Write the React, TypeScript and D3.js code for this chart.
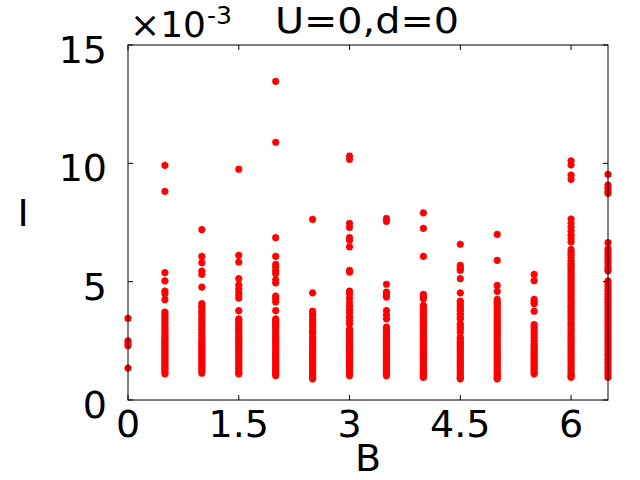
import React from "react";
import * as d3 from "d3";

const bValues = [0, 0.5, 1, 1.5, 2, 2.5, 3, 3.5, 4, 4.5, 5, 5.5, 6, 6.5];

const iB00 = [3.45, 2.5, 2.38, 2.3, 1.35];
const iB05 = [9.91, 8.81, 5.38, 5.03, 4.6, 4.49, 4.24, 3.71, 3.62, 3.5, 3.41, 3.3, 3.22, 3.1, 2.98, 2.9, 2.8, 2.72, 2.63, 2.55, 2.47, 2.4, 2.31, 2.24, 2.15, 2.07, 1.99, 1.9, 1.83, 1.75, 1.66, 1.58, 1.5, 1.42, 1.35, 1.27, 1.19, 1.1];
const iB10 = [7.2, 6.07, 5.8, 5.45, 5.31, 4.77, 4.07, 3.98, 3.87, 3.76, 3.68, 3.57, 3.46, 3.35, 3.27, 3.15, 3.04, 2.95, 2.83, 2.72, 2.61, 2.52, 2.44, 2.36, 2.28, 2.2, 2.11, 2.03, 1.95, 1.86, 1.78, 1.7, 1.61, 1.53, 1.45, 1.37, 1.29, 1.21, 1.13];
const iB15 = [9.75, 6.11, 5.83, 5.13, 4.85, 4.7, 4.55, 4.42, 4.3, 3.78, 3.43, 3.34, 3.25, 3.15, 3.05, 2.96, 2.87, 2.77, 2.68, 2.58, 2.5, 2.41, 2.32, 2.22, 2.13, 2.05, 1.96, 1.87, 1.78, 1.69, 1.6, 1.51, 1.42, 1.33, 1.24, 1.16, 1.1];
const iB20 = [13.46, 10.89, 6.86, 6.07, 5.73, 5.6, 5.46, 5.34, 5.08, 4.95, 4.39, 4.27, 4.14, 3.78, 3.43, 3.35, 3.26, 3.17, 3.08, 2.99, 2.9, 2.81, 2.72, 2.63, 2.54, 2.45, 2.36, 2.27, 2.18, 2.09, 2.0, 1.91, 1.82, 1.73, 1.64, 1.55, 1.46, 1.37, 1.28, 1.19, 1.1, 1.03];
const iB25 = [7.63, 4.53, 3.75, 3.63, 3.52, 3.4, 3.3, 3.2, 3.1, 2.98, 2.88, 2.8, 2.65, 2.57, 2.48, 2.39, 2.3, 2.21, 2.12, 2.03, 1.94, 1.85, 1.76, 1.67, 1.58, 1.49, 1.4, 1.31, 1.22, 1.13, 1.04, 0.95, 0.89];
const iB30 = [10.31, 10.17, 7.46, 7.29, 6.86, 6.75, 6.47, 5.48, 5.4, 4.6, 4.47, 4.3, 4.12, 3.96, 3.8, 3.66, 3.5, 3.36, 3.22, 3.01, 2.92, 2.83, 2.74, 2.65, 2.56, 2.47, 2.38, 2.29, 2.2, 2.11, 2.02, 1.93, 1.84, 1.75, 1.66, 1.57, 1.48, 1.39, 1.3, 1.21, 1.12, 1.03];
const iB35 = [7.67, 7.55, 4.89, 4.56, 4.45, 4.35, 3.78, 3.6, 3.43, 3.08, 2.99, 2.9, 2.81, 2.72, 2.63, 2.54, 2.45, 2.36, 2.27, 2.18, 2.09, 2.0, 1.91, 1.82, 1.73, 1.64, 1.55, 1.46, 1.37, 1.28, 1.19, 1.1, 1.03];
const iB40 = [7.91, 7.25, 6.07, 4.46, 4.36, 4.28, 4.0, 3.9, 3.8, 3.7, 3.6, 3.5, 3.4, 3.3, 3.2, 3.1, 3.0, 2.9, 2.8, 2.71, 2.62, 2.53, 2.44, 2.35, 2.26, 2.17, 2.08, 1.99, 1.9, 1.81, 1.72, 1.63, 1.54, 1.45, 1.36, 1.27, 1.18, 1.09, 1.02, 0.96];
const iB45 = [6.58, 5.69, 5.58, 5.48, 5.13, 4.53, 4.18, 4.07, 3.96, 3.85, 3.75, 3.63, 3.52, 3.43, 3.22, 3.1, 2.98, 2.86, 2.65, 2.56, 2.47, 2.38, 2.29, 2.2, 2.11, 2.02, 1.93, 1.84, 1.75, 1.66, 1.57, 1.48, 1.39, 1.3, 1.21, 1.12, 1.03, 0.95, 0.89];
const iB50 = [7.0, 5.9, 4.84, 4.59, 4.25, 4.15, 4.05, 3.95, 3.85, 3.75, 3.65, 3.55, 3.45, 3.35, 3.25, 3.15, 3.05, 2.95, 2.85, 2.75, 2.65, 2.55, 2.45, 2.36, 2.27, 2.18, 2.09, 2.0, 1.91, 1.82, 1.73, 1.64, 1.55, 1.46, 1.37, 1.28, 1.19, 1.1, 1.01, 0.94, 0.89];
const iB55 = [5.31, 5.04, 4.25, 4.16, 4.07, 3.75, 3.19, 3.08, 2.97, 2.85, 2.73, 2.62, 2.51, 2.37, 2.28, 2.19, 2.1, 2.01, 1.92, 1.83, 1.74, 1.65, 1.56, 1.47, 1.38, 1.29, 1.2, 1.1];
const iB60 = [10.1, 9.93, 9.5, 9.32, 7.64, 7.46, 7.3, 7.14, 6.98, 6.83, 6.68, 6.36, 6.25, 6.13, 6.0, 5.88, 5.76, 5.69, 5.6, 5.51, 5.4, 5.31, 5.2, 5.11, 5.0, 4.91, 4.8, 4.71, 4.6, 4.5, 4.41, 4.3, 4.21, 4.1, 4.0, 3.91, 3.8, 3.71, 3.6, 3.5, 3.41, 3.3, 3.2, 3.11, 3.0, 2.9, 2.81, 2.7, 2.6, 2.51, 2.4, 2.3, 2.21, 2.1, 2.0, 1.91, 1.8, 1.7, 1.61, 1.5, 1.4, 1.31, 1.2, 1.1, 1.02, 0.96];
const iB65 = [9.53, 9.08, 8.95, 8.82, 8.73, 6.65, 6.4, 6.28, 6.15, 6.02, 5.9, 5.78, 5.65, 5.55, 5.45, 5.03, 4.93, 4.82, 4.7, 4.6, 4.48, 4.37, 4.26, 4.15, 4.04, 3.93, 3.82, 3.71, 3.6, 3.49, 3.38, 3.27, 3.16, 3.05, 2.94, 2.83, 2.72, 2.61, 2.5, 2.39, 2.28, 2.17, 2.06, 1.95, 1.84, 1.73, 1.62, 1.51, 1.4, 1.29, 1.18, 1.07, 0.96];

const iColumns = [iB00, iB05, iB10, iB15, iB20, iB25, iB30, iB35, iB40, iB45, iB50, iB55, iB60, iB65];

const xTicks = [0, 1.5, 3, 4.5, 6];
const yTicks = [0, 5, 10, 15];

const W = 640;
const H = 480;
const left = 128;
const right = 608;
const top = 45;
const bottom = 400;
const FONT = "DejaVu Sans, sans-serif";

export default function App() {
  const x = d3.scaleLinear().domain([0, 6.5]).range([left, right]);
  const y = d3.scaleLinear().domain([0, 15]).range([bottom, top]);

  const points: { b: number; v: number }[] = [];
  bValues.forEach((b, i) => {
    iColumns[i].forEach((v) => points.push({ b, v }));
  });

  const star = "M-3.6,0H3.6M0,-3.6V3.6M-2.6,-2.6L2.6,2.6M-2.6,2.6L2.6,-2.6";
  const tickLen = 5;

  return (
    <svg
      width={W}
      height={H}
      style={{ position: "absolute", left: 0, top: 0, background: "#fff" }}
      fontFamily={FONT}
    >
      <rect x={0} y={0} width={W} height={H} fill="#fff" />
      <g>
        {points.map((p, k) => (
          <path
            key={k}
            d={star}
            transform={`translate(${x(p.b)},${y(p.v)})`}
            stroke="#ff0000"
            strokeWidth={2.2}
            fill="none"
          />
        ))}
      </g>
      <rect
        x={left}
        y={top}
        width={right - left}
        height={bottom - top}
        fill="none"
        stroke="#000"
        strokeWidth={1}
      />
      {xTicks.map((t) => (
        <g key={"x" + t}>
          <line x1={x(t)} x2={x(t)} y1={bottom} y2={bottom - tickLen} stroke="#000" />
          <line x1={x(t)} x2={x(t)} y1={top} y2={top + tickLen} stroke="#000" />
          <text x={x(t)} y={437} fontSize={38} textAnchor="middle" fill="#000">
            {String(t)}
          </text>
        </g>
      ))}
      {yTicks.map((t) => (
        <g key={"y" + t}>
          <line x1={left} x2={left + tickLen} y1={y(t)} y2={y(t)} stroke="#000" />
          <line x1={right} x2={right - tickLen} y1={y(t)} y2={y(t)} stroke="#000" />
          <text x={107} y={y(t) + 18} fontSize={38} textAnchor="end" fill="#000">
            {String(t)}
          </text>
        </g>
      ))}
      <text x={368} y={471} fontSize={38} textAnchor="middle" fill="#000">
        B
      </text>
      <text x={23} y={226} fontSize={38} textAnchor="middle" fill="#000">
        I
      </text>
      <text
        x={130}
        y={37}
        fontSize={35}
        fill="#000"
        textLength={76}
        lengthAdjust="spacingAndGlyphs"
      >
        ×10
      </text>
      <text x={207} y={24} fontSize={25} fill="#000">
        -3
      </text>
      <text
        x={275}
        y={33}
        fontSize={35}
        fill="#000"
        textLength={184}
        lengthAdjust="spacingAndGlyphs"
      >
        U=0,d=0
      </text>
    </svg>
  );
}
